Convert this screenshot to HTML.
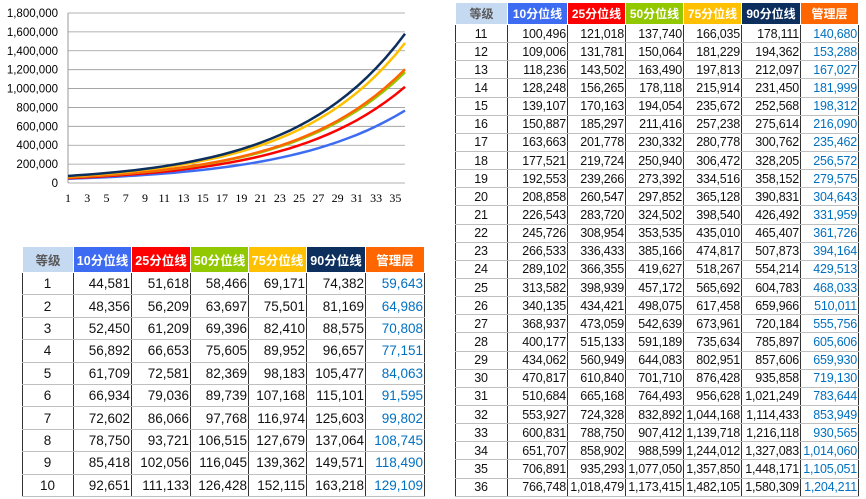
<!DOCTYPE html>
<html><head><meta charset="utf-8"><style>
body{margin:0;width:866px;height:499px;background:#fff;position:relative;overflow:hidden;font-family:"Liberation Sans","Noto Sans CJK SC",sans-serif}
table{position:absolute;border-collapse:collapse;table-layout:fixed}
td{border-bottom:1px solid #bfbfbf;border-left:1px solid #333;border-right:1px solid #333;padding:0 1px 0 0;text-align:right;color:#111;white-space:nowrap;overflow:hidden}
td.g{text-align:center}
td.m{color:#0070c0}
th{color:#fff;font-weight:bold;font-size:12.5px;border:1px solid #fff;padding:0;white-space:nowrap;overflow:hidden}
#L{left:22px;top:246px;width:402px;font-size:13.5px}
#L th{height:25px}#L td{height:21.4px}
#R{left:455px;top:2px;width:403px;font-size:12.5px;letter-spacing:-0.2px}
#R th{height:21px;font-size:12px;letter-spacing:0}#R td{height:17.15px}
</style></head><body>
<svg id="c" width="420" height="210" style="position:absolute;left:0;top:0"></svg>
<table id="L"></table><table id="R"></table>
<script>
var D=[[44581,51618,58466,69171,74382,59643],[48356,56209,63697,75501,81169,64986],[52450,61209,69396,82410,88575,70808],[56892,66653,75605,89952,96657,77151],[61709,72581,82369,98183,105477,84063],[66934,79036,89739,107168,115101,91595],[72602,86066,97768,116974,125603,99802],[78750,93721,106515,127679,137064,108745],[85418,102056,116045,139362,149571,118490],[92651,111133,126428,152115,163218,129109],
[100496,121018,137740,166035,178111,140680],[109006,131781,150064,181229,194362,153288],[118236,143502,163490,197813,212097,167027],[128248,156265,178118,215914,231450,181999],[139107,170163,194054,235672,252568,198312],[150887,185297,211416,257238,275614,216090],[163663,201778,230332,280778,300762,235462],[177521,219724,250940,306472,328205,256572],[192553,239266,273392,334516,358152,279575],[208858,260547,297852,365128,390831,304643],[226543,283720,324502,398540,426492,331959],[245726,308954,353535,435010,465407,361726],[266533,336433,385166,474817,507873,394164],[289102,366355,419627,518267,554214,429513],[313582,398939,457172,565692,604783,468033],[340135,434421,498075,617458,659966,510011],[368937,473059,542639,673961,720184,555756],[400177,515133,591189,735634,785897,605606],[434062,560949,644083,802951,857606,659930],[470817,610840,701710,876428,935858,719130],[510684,665168,764493,956628,1021249,783644],[553927,724328,832892,1044168,1114433,853949],[600831,788750,907412,1139718,1216118,930565],[651707,858902,988599,1244012,1327083,1014060],[706891,935293,1077050,1357850,1448171,1105051],[766748,1018479,1173415,1482105,1580309,1204211]];
var hc=['#c5d9f1','#3d6cf2','#ff0000','#92c800','#ffc000','#0c2f5e','#ff6600'];
var hn=['等级','10分位线','25分位线','50分位线','75分位线','90分位线','管理层'];
function mk(id,from,to,w){var h='<colgroup>'+w.map(x=>'<col style="width:'+x+'px">').join('')+'</colgroup><tr>';
for(var i=0;i<7;i++)h+='<th style="background:'+hc[i]+(i==0?';color:#595959':'')+'">'+hn[i]+'</th>';h+='</tr>';
for(var r=from;r<to;r++){h+='<tr><td class="g">'+(r+1)+'</td>';for(var j=0;j<6;j++)h+='<td'+(j==5?' class="m"':'')+'>'+D[r][j].toLocaleString('en-US')+'</td>';h+='</tr>';}
document.getElementById(id).innerHTML=h;}
mk('L',0,10,[51,58,59,58,58,59,59]);mk('R',10,36,[52,60,58,58,58,59,58]);
var s='',x0=68,x1=405,y0=183,sy=170/1800000;
for(var k=0;k<=9;k++){var y=y0-k*200000*sy;s+='<line x1="'+x0+'" x2="'+x1+'" y1="'+y+'" y2="'+y+'" stroke="#999" stroke-width="0.8"/>';
s+='<text x="58" y="'+(y+4)+'" text-anchor="end" font-size="11.5" font-family="Liberation Sans">'+(k*200000).toLocaleString('en-US')+'</text>';}
s+='<line x1="'+x0+'" x2="'+x0+'" y1="13" y2="'+y0+'" stroke="#999"/>';
var dx=(x1-x0)/35;
for(var i=0;i<36;i+=2)s+='<text x="'+(x0+i*dx)+'" y="202" text-anchor="middle" font-size="12" font-family="Liberation Serif">'+(i+1)+'</text>';
var cols=['#3d6cf2','#ff0000','#92c800','#ff6600','#ffc000','#0c2f5e'],idx=[0,1,2,5,3,4];
idx.forEach(function(j,n){var p='';for(var i=0;i<36;i++)p+=(i?'L':'M')+(x0+i*dx).toFixed(1)+' '+(y0-D[i][j]*sy).toFixed(1);
s+='<path d="'+p+'" fill="none" stroke="'+cols[n]+'" stroke-width="2.5"/>';});
document.getElementById('c').innerHTML=s;
</script>
</body></html>
